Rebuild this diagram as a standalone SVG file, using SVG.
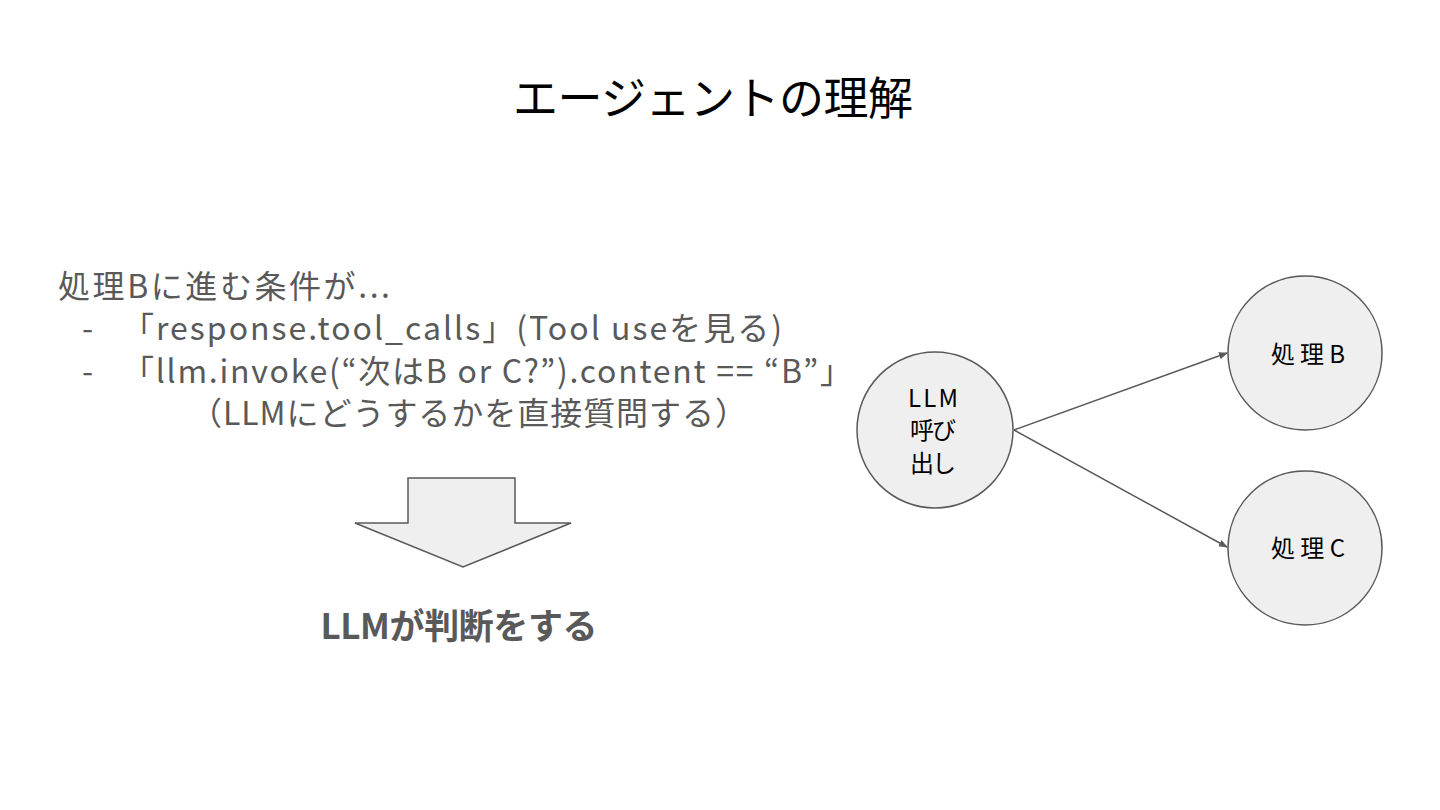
<svg xmlns="http://www.w3.org/2000/svg" width="1440" height="810" viewBox="0 0 1440 810">
<style>
.t{font-family:"Noto Sans CJK JP","Noto Sans",sans-serif}
.body{font-size:32px;fill:#595959}
.node circle{fill:#efefef;stroke:#595959;stroke-width:1.5}
.node text{font-size:24px;fill:#000;text-anchor:middle}
.conn line{stroke:#595959;stroke-width:1.5;marker-end:url(#ah)}
</style>
<defs>
<marker id="ah" viewBox="0 0 10 10" refX="9" refY="5" markerWidth="6" markerHeight="6" orient="auto" markerUnits="strokeWidth">
<path d="M0,1 L10,5 L0,9 z" fill="#595959"/>
</marker>
</defs>
<rect width="1440" height="810" fill="#fff"/>
<text class="t" x="713" y="115" font-size="45" text-anchor="middle" fill="#000" textLength="400">エージェントの理解</text>
<g id="conditions" class="t body">
<text x="58" y="298" textLength="332">処理Bに進む条件が...</text>
<text x="82" y="340">-</text>
<text x="122" y="340" textLength="660">「response.tool_calls」(Tool useを見る)</text>
<text x="82" y="383">-</text>
<text x="122" y="383" textLength="730">「llm.invoke(“次はB or C?”).content == “B”」</text>
<text x="190" y="425" textLength="557">（LLMにどうするかを直接質問する）</text>
</g>
<g id="down-arrow">
<path d="M408,478 H515 V523 H571 L463,567 L355,523 H408 Z" fill="#efefef" stroke="#595959" stroke-width="1.5"/>
</g>
<text class="t" x="459" y="639" font-size="35" font-weight="bold" text-anchor="middle" fill="#595959" textLength="277">LLMが判断をする</text>
<g id="connectors" class="conn">
<line x1="1014" y1="430" x2="1227" y2="353"/>
<line x1="1014" y1="430" x2="1227" y2="547"/>
</g>
<g id="llm" class="node t">
<circle cx="935" cy="430" r="78"/>
<text x="933" y="407" textLength="50">LLM</text>
<text x="933" y="439" textLength="46">呼び</text>
<text x="933" y="472" textLength="46">出し</text>
</g>
<g id="procB" class="node t">
<circle cx="1305" cy="353" r="77"/>
<text x="1308" y="363" textLength="74">処理B</text>
</g>
<g id="procC" class="node t">
<circle cx="1305" cy="548" r="77"/>
<text x="1308" y="557" textLength="74">処理C</text>
</g>
</svg>
